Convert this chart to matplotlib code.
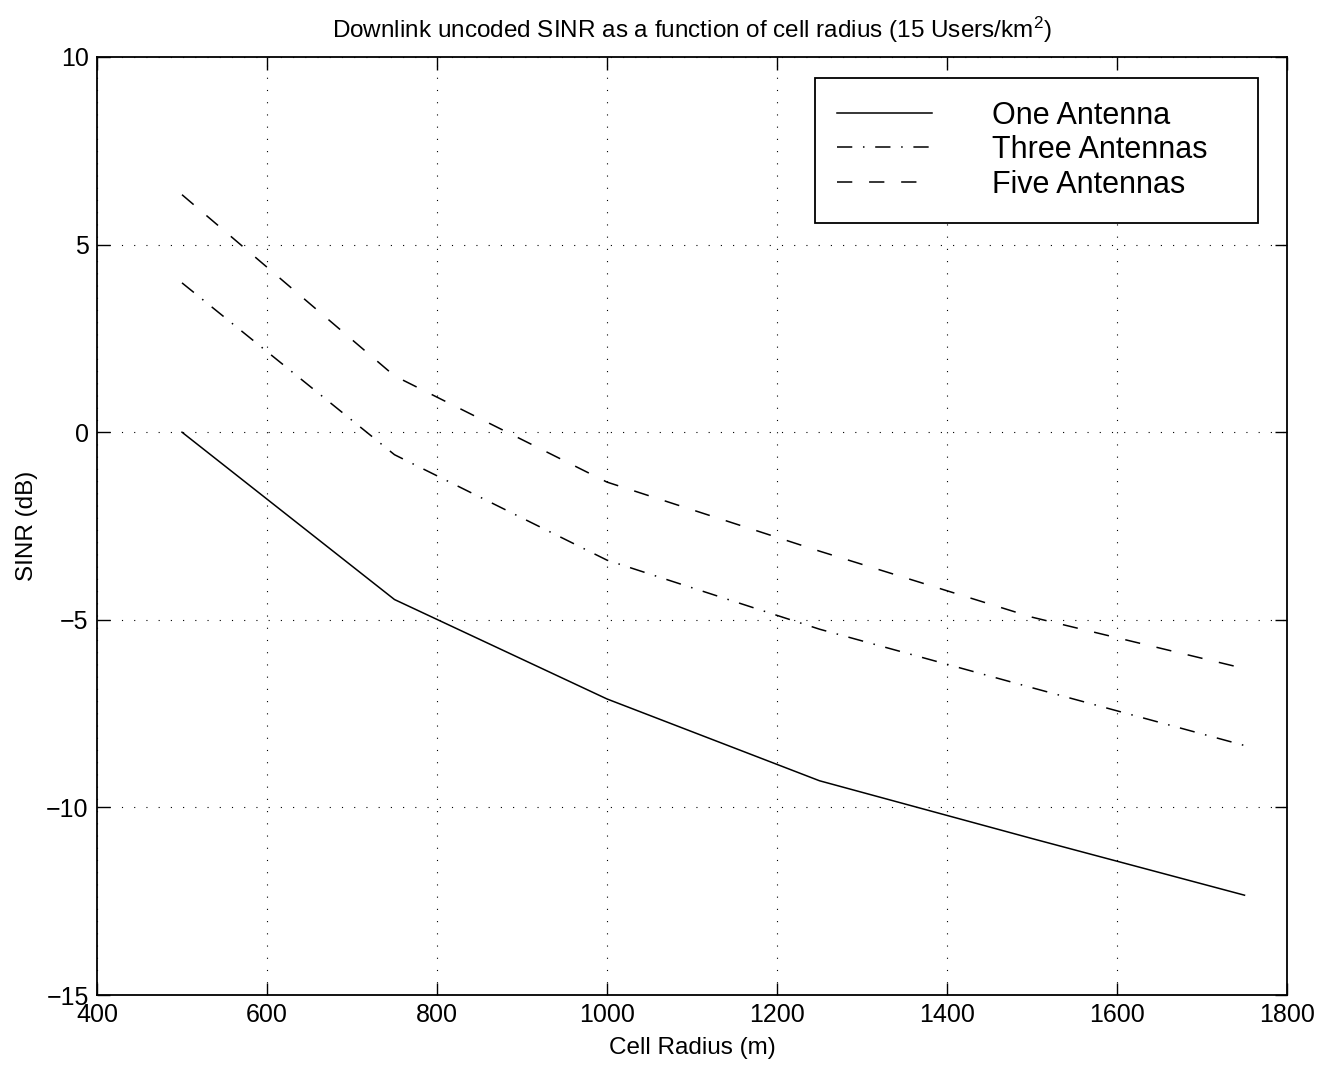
import matplotlib
matplotlib.use("Agg")
import matplotlib.pyplot as plt

plt.rcParams['font.family'] = ['Liberation Sans', 'DejaVu Sans']
plt.rcParams['mathtext.default'] = 'regular'

radius = [500, 750, 1000, 1250, 1500, 1750]
one_antenna = [0.0, -4.46, -7.11, -9.29, -10.83, -12.34]
three_antennas = [3.98, -0.6, -3.41, -5.25, -6.81, -8.35]
five_antennas = [6.33, 1.5, -1.33, -3.17, -4.93, -6.30]
labels = ['One Antenna', 'Three Antennas', 'Five Antennas']
xticks = [400, 600, 800, 1000, 1200, 1400, 1600, 1800]
yticks = [-15, -10, -5, 0, 5, 10]

fig = plt.figure(figsize=(13.38, 10.69), dpi=100)
ax = fig.add_axes([97/1338, 1 - 995/1069, 1190/1338, 938/1069])

lw = 1.1
ax.plot(radius, one_antenna, color='black', lw=lw, linestyle='-', label=labels[0])
ax.plot(radius, three_antennas, color='black', lw=lw, linestyle=(0, (10, 7, 1, 7)), label=labels[1])
ax.plot(radius, five_antennas, color='black', lw=lw, linestyle=(0, (10, 11)), label=labels[2])

ax.set_xlim(400, 1800)
ax.set_ylim(-15, 10)
ax.set_xticks(xticks)
ax.set_yticks(yticks)
ax.grid(True, color='black', linestyle=(0, (1, 10)), linewidth=0.8)
ax.tick_params(direction='in', length=9, width=1, top=True, right=True, labelsize=18, pad=6)
for s in ax.spines.values():
    s.set_linewidth(1.3)

ax.set_title('Downlink uncoded SINR as a function of cell radius (15 Users/km$^2$)', fontsize=17.5, pad=14)
ax.set_xlabel('Cell Radius (m)', fontsize=17.5, labelpad=7)
ax.set_ylabel('SINR (dB)', fontsize=17.5, labelpad=6)

leg = ax.legend(loc='upper left', bbox_to_anchor=(0.603, 0.825, 0.373, 0.153),
                mode='expand', fontsize=22,
                handlelength=3.1, handletextpad=1.95, labelspacing=0.15,
                borderpad=0.75, borderaxespad=0, fancybox=False, framealpha=1,
                edgecolor='black')
leg.get_frame().set_linewidth(1.3)

fig.savefig('out.png', dpi=100)
